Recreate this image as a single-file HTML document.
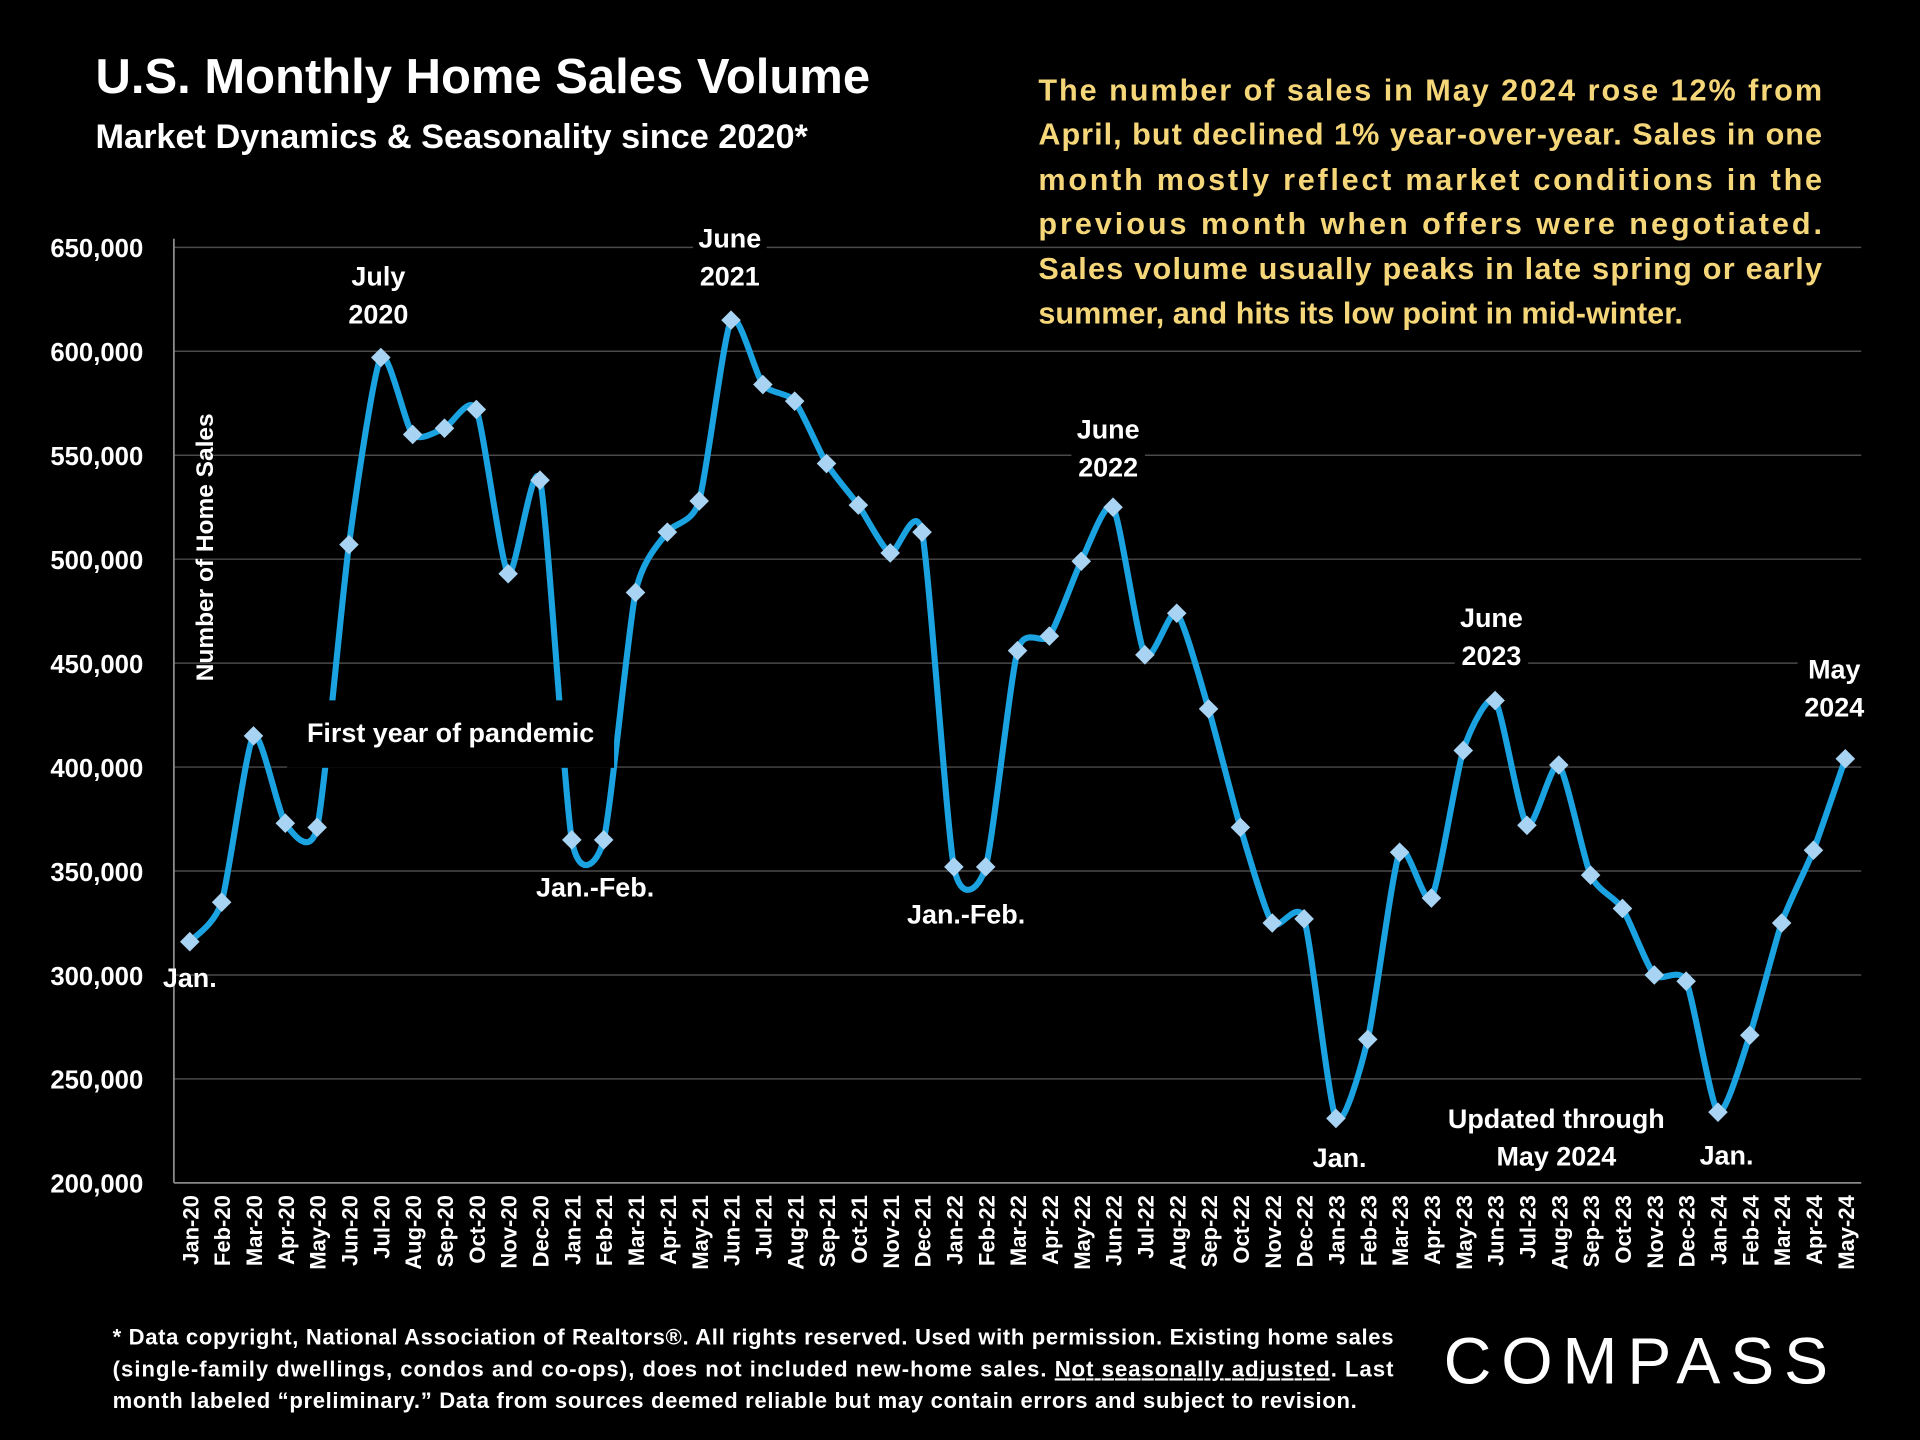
<!DOCTYPE html>
<html><head><meta charset="utf-8"><style>
html,body{margin:0;padding:0;background:#000;}
svg{display:block;}
text{font-family:"Liberation Sans",sans-serif;font-weight:bold;}
</style></head><body>
<svg id="chart" width="1920" height="1440" viewBox="0 0 1568 1176" xmlns="http://www.w3.org/2000/svg">
<rect width="1568" height="1176" fill="#000"/>
<g id="grid"></g>
<g id="yticks"></g>
<g id="xticks"></g>
<line x1="142" y1="195" x2="142" y2="966" stroke="#888" stroke-width="1.5"/>
<line x1="142" y1="966" x2="1520" y2="966" stroke="#888" stroke-width="1.5"/>
<g id="series"></g>
<g id="annots"></g>
<text x="78" y="76" fill="#fff" font-size="40">U.S. Monthly Home Sales Volume</text>
<text x="78" y="121" fill="#fff" font-size="28">Market Dynamics &amp; Seasonality since 2020*</text>
<text transform="translate(174,447) rotate(-90)" text-anchor="middle" fill="#fff" font-size="20">Number of Home Sales</text>
<g fill="#f5d77a" font-size="25">
<text x="848" y="82" textLength="640" lengthAdjust="spacing">The number of sales in May 2024 rose 12% from</text>
<text x="848" y="118" textLength="640" lengthAdjust="spacing">April, but declined 1% year-over-year. Sales in one</text>
<text x="848" y="155" textLength="640" lengthAdjust="spacing">month mostly reflect market conditions in the</text>
<text x="848" y="191" textLength="640" lengthAdjust="spacing">previous month when offers were negotiated.</text>
<text x="848" y="228" textLength="640" lengthAdjust="spacing">Sales volume usually peaks in late spring or early</text>
<text x="848" y="264">summer, and hits its low point in mid-winter.</text>
</g>
<g fill="#fff" font-size="18">
<text x="92" y="1098" textLength="1046" lengthAdjust="spacing">* Data copyright, National Association of Realtors®. All rights reserved. Used with permission. Existing home sales</text>
<text x="92" y="1124" textLength="1046" lengthAdjust="spacing">(single-family dwellings, condos and co-ops), does not included new-home sales. <tspan text-decoration="underline">Not seasonally adjusted</tspan>. Last</text>
<text x="92" y="1150" textLength="1016" lengthAdjust="spacing">month labeled “preliminary.” Data from sources deemed reliable but may contain errors and subject to revision.</text>
</g>
<text x="1340" y="1130" text-anchor="middle" fill="#fff" font-size="54" style="font-weight:normal;letter-spacing:8px">COMPASS</text>
</svg>
<script>
const categories=["Jan-20","Feb-20","Mar-20","Apr-20","May-20","Jun-20","Jul-20","Aug-20","Sep-20","Oct-20","Nov-20","Dec-20","Jan-21","Feb-21","Mar-21","Apr-21","May-21","Jun-21","Jul-21","Aug-21","Sep-21","Oct-21","Nov-21","Dec-21","Jan-22","Feb-22","Mar-22","Apr-22","May-22","Jun-22","Jul-22","Aug-22","Sep-22","Oct-22","Nov-22","Dec-22","Jan-23","Feb-23","Mar-23","Apr-23","May-23","Jun-23","Jul-23","Aug-23","Sep-23","Oct-23","Nov-23","Dec-23","Jan-24","Feb-24","Mar-24","Apr-24","May-24"];
const sales=[316000,335000,415000,373000,371000,507000,597000,560000,563000,572000,493000,538000,365000,365000,484000,513000,528000,615000,584000,576000,546000,526000,503000,513000,352000,352000,456000,463000,499000,525000,454000,474000,428000,371000,325000,327000,231000,269000,359000,337000,408000,432000,372000,401000,348000,332000,300000,297000,234000,271000,325000,360000,404000];
const yTicks=[200000,250000,300000,350000,400000,450000,500000,550000,600000,650000];
const NS="http://www.w3.org/2000/svg";
const X0=155,XSTEP=(1507-155)/52,Y0=966,YMIN=200000,YMAX=650000,YTOP=202;
function xs(i){return X0+i*XSTEP;}
function ys(v){return Y0-(v-YMIN)/(YMAX-YMIN)*(Y0-YTOP);}
function mk(tag,attrs,parent){const e=document.createElementNS(NS,tag);for(const k in attrs)e.setAttribute(k,attrs[k]);parent.appendChild(e);return e;}
const grid=document.getElementById('grid'),yt=document.getElementById('yticks'),xt=document.getElementById('xticks'),ser=document.getElementById('series'),an=document.getElementById('annots');
yTicks.forEach(v=>{
 if(v>YMIN){const l=mk('line',{x1:142,x2:1520,y1:ys(v),y2:ys(v),stroke:'#4a4a4a','stroke-width':1.2},grid);
 
 }
 const t=mk('text',{x:117,y:ys(v)+8,'text-anchor':'end',fill:'#fff','font-size':21},yt);
 t.textContent=v.toLocaleString('en-US');
 
 
});
categories.forEach((c,i)=>{
 const t=mk('text',{transform:`translate(${xs(i)+7},976) rotate(-90)`,'text-anchor':'end',fill:'#fff','font-size':18},xt);
 t.textContent=c;
 
 
});
const pts=sales.map((v,i)=>[xs(i),ys(v)]);
let d=`M${pts[0][0]},${pts[0][1]}`;
for(let i=0;i<pts.length-1;i++){
 const p0=pts[Math.max(0,i-1)],p1=pts[i],p2=pts[i+1],p3=pts[Math.min(pts.length-1,i+2)];
 const t=0.11;
 d+=` C${p1[0]+(p2[0]-p0[0])*t},${p1[1]+(p2[1]-p0[1])*t} ${p2[0]-(p3[0]-p1[0])*t},${p2[1]-(p3[1]-p1[1])*t} ${p2[0]},${p2[1]}`;
}
const line=mk('path',{d:d,fill:'none',stroke:'#1aa3e0','stroke-width':5,'stroke-linejoin':'round'},ser);


pts.forEach((p,i)=>{
 const m=mk('path',{d:`M${p[0]},${p[1]-8} L${p[0]+8},${p[1]} L${p[0]},${p[1]+8} L${p[0]-8},${p[1]} Z`,fill:'#a8d3f2'},ser);
 
 
});
const labels=[
 [["July","2020"],309,233,true],[["June","2021"],596,202,true],[["June","2022"],905,358,true],[["June","2023"],1218,512,true],[["May","2024"],1498,554,true],
 [["First year of pandemic"],368,606,true],[["Jan.-Feb."],486,732,false],[["Jan.-Feb."],789,754,false],[["Jan."],155,806,false],
 [["Jan."],1094,953,false],[["Jan."],1410,951,false],[["Updated through","May 2024"],1271,921,false]
];
labels.forEach(([lines,x,y,bg])=>{
 const g=mk('g',{},an);
 
 
 if(bg){const w=Math.max(...lines.map(s=>s.length))*11.5+14;
  const big=lines.length===1;
  mk('rect',{x:x-w/2,y:y-(big?34:24),width:w,height:lines.length*31+(big?24:10),fill:'#000'},g);}
 lines.forEach((s,k)=>{const t=mk('text',{x:x,y:y+k*31,'text-anchor':'middle',fill:'#fff','font-size':22},g);t.textContent=s;});
});
</script>
</body></html>
